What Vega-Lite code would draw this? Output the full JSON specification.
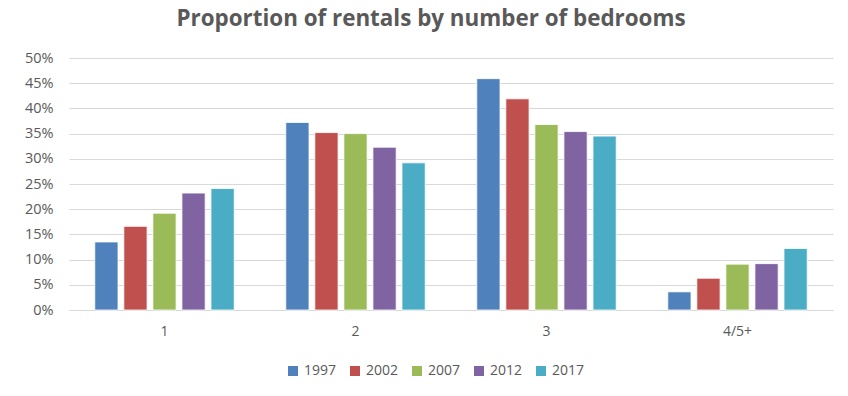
{
  "$schema": "https://vega.github.io/schema/vega-lite/v6.json",
  "autosize": {"type": "none"},
  "padding": {"left": 69, "top": 58, "right": 15, "bottom": 86},
  "width": 764,
  "height": 252,
  "background": "white",
  "title": {
    "text": "Proportion of rentals by number of bedrooms",
    "font": "Open Sans",
    "fontSize": 22.4,
    "fontWeight": "bold",
    "color": "#595959",
    "anchor": "middle",
    "dx": -20,
    "offset": 20
  },
  "data": {
    "values": [
      {"bedrooms": "1", "year": "1997", "share": 0.135},
      {"bedrooms": "1", "year": "2002", "share": 0.166},
      {"bedrooms": "1", "year": "2007", "share": 0.192},
      {"bedrooms": "1", "year": "2012", "share": 0.232},
      {"bedrooms": "1", "year": "2017", "share": 0.241},
      {"bedrooms": "2", "year": "1997", "share": 0.372},
      {"bedrooms": "2", "year": "2002", "share": 0.352},
      {"bedrooms": "2", "year": "2007", "share": 0.350},
      {"bedrooms": "2", "year": "2012", "share": 0.323},
      {"bedrooms": "2", "year": "2017", "share": 0.292},
      {"bedrooms": "3", "year": "1997", "share": 0.459},
      {"bedrooms": "3", "year": "2002", "share": 0.419},
      {"bedrooms": "3", "year": "2007", "share": 0.368},
      {"bedrooms": "3", "year": "2012", "share": 0.354},
      {"bedrooms": "3", "year": "2017", "share": 0.345},
      {"bedrooms": "4/5+", "year": "1997", "share": 0.036},
      {"bedrooms": "4/5+", "year": "2002", "share": 0.063},
      {"bedrooms": "4/5+", "year": "2007", "share": 0.091},
      {"bedrooms": "4/5+", "year": "2012", "share": 0.092},
      {"bedrooms": "4/5+", "year": "2017", "share": 0.122}
    ]
  },
  "mark": {"type": "bar", "stroke": "white", "strokeWidth": 0.8},
  "encoding": {
    "x": {
      "field": "bedrooms",
      "type": "nominal",
      "scale": {"paddingInner": 0.27, "paddingOuter": 0.135},
      "axis": {
        "title": null,
        "labelAngle": 0,
        "ticks": false,
        "domain": true,
        "domainColor": "#d9d9d9",
        "labelPadding": 14,
        "labelFont": "Open Sans",
        "labelFontSize": 14,
        "labelColor": "#595959"
      }
    },
    "xOffset": {
      "field": "year",
      "type": "nominal",
      "scale": {"paddingInner": 0.2, "paddingOuter": 0}
    },
    "y": {
      "field": "share",
      "type": "quantitative",
      "scale": {"domain": [0, 0.5], "nice": false},
      "axis": {
        "title": null,
        "format": ".0%",
        "values": [0, 0.05, 0.1, 0.15, 0.2, 0.25, 0.3, 0.35, 0.4, 0.45, 0.5],
        "labelOverlap": false,
        "domain": false,
        "ticks": false,
        "labelPadding": 16,
        "gridColor": "#d9d9d9",
        "labelFont": "Open Sans",
        "labelFontSize": 14.5,
        "labelColor": "#595959"
      }
    },
    "color": {
      "field": "year",
      "type": "nominal",
      "scale": {
        "domain": ["1997", "2002", "2007", "2012", "2017"],
        "range": ["#4F81BD", "#C0504D", "#9BBB59", "#8064A2", "#4BACC6"]
      },
      "legend": {
        "title": null,
        "orient": "none",
        "direction": "horizontal",
        "legendX": 217,
        "legendY": 306,
        "symbolType": "square",
        "symbolSize": 100,
        "symbolStrokeWidth": 0,
        "labelFont": "Open Sans",
        "labelFontSize": 14,
        "labelColor": "#595959",
        "columnPadding": 11,
        "labelOffset": 4
      }
    }
  },
  "config": {"view": {"stroke": null}}
}
